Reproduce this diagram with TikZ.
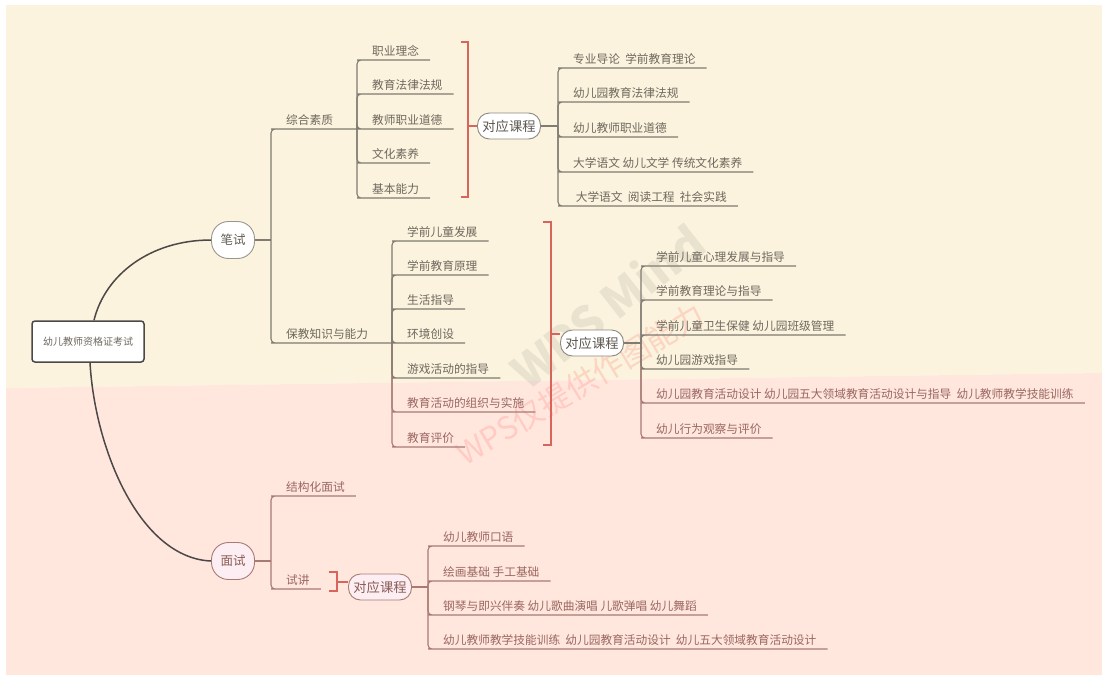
\documentclass[tikz,border=0pt]{standalone}
\usepackage{fontspec}
\setmainfont{Noto Sans CJK SC}
\usepackage{xcolor}
\usepackage{tikz}

\definecolor{bgtop}{HTML}{FBF3DD}
\definecolor{bgbot}{HTML}{FFE7DE}
\definecolor{txtgray}{HTML}{6E685F}
\definecolor{txtred}{HTML}{9A6660}
\definecolor{lngray}{HTML}{807B73}
\definecolor{lnred}{HTML}{A87A74}
\definecolor{brred}{HTML}{D9645C}
\definecolor{trunkgray}{HTML}{4C4848}
\definecolor{pinkfill}{HTML}{FCEEF2}

\tikzset{
  root/.style={draw=trunkgray, line width=1.5pt, fill=white, rounded corners=3pt,
    minimum width=112pt, minimum height=41pt, text=txtgray,
    font=\fontsize{10}{12}\selectfont},
  topic/.style={draw=lngray!80, line width=0.9pt, fill=white, rounded corners=17pt,
    minimum width=43pt, minimum height=37pt, text=txtgray!90!black,
    font=\fontsize{12.5}{14}\selectfont},
  topicr/.style={topic, draw=lnred, fill=pinkfill, text=txtred!90!black},
  course/.style={draw=lngray!90, line width=0.9pt, fill=white, rounded corners=12pt,
    minimum width=63pt, minimum height=26pt, inner sep=2pt, text=txtgray!85!black,
    font=\fontsize{13.3}{15}\selectfont},
  courser/.style={course, draw=lnred, fill=pinkfill, text=txtred!90!black},
  leaf/.style={anchor=south west, xshift=4pt, inner xsep=11pt, inner ysep=3pt,
    text=txtgray, font=\fontsize{11.7}{14}\selectfont},
  leafr/.style={leaf, text=txtred},
  branch/.style={draw=lngray, line width=1.1pt, rounded corners=4pt},
  branchr/.style={branch, draw=lnred},
  bracket/.style={draw=brred, line width=1.1pt},
  trunk/.style={draw=trunkgray, line width=1.5pt},
}

\begin{document}
\begin{tikzpicture}[x=1pt,y=-1pt]
  \useasboundingbox (0,0) rectangle (1102,675);
  % background bands
  \fill[white] (0,0) rectangle (1102,675);
  \fill[bgtop] (6,5) -- (1102,5) -- (1102,373) -- (6,388) -- cycle;
  \fill[bgbot] (6,388) -- (1102,373) -- (1102,675) -- (6,675) -- cycle;

  % watermark
  \node[rotate=38, opacity=0.14, text=gray, font=\fontsize{46}{46}\selectfont\bfseries] (MarkA) at (607,306) {WPS Mind};
  \node[rotate=31, opacity=0.18, text=red!70, font=\fontsize{31}{31}\selectfont] (MarkB) at (580,384) {WPS仅提供作图能力};

  % root and the two exams
  \node[root] (Root) at (88,341.5) {幼儿教师资格证考试};
  \node[topic] (Bishi) at (233,240) {笔试};
  \node[topicr] (Mianshi) at (233,561) {面试};
  \draw[trunk] ([xshift=6pt]Root.north) .. controls (105,275) and (150,240) .. (Bishi.west);
  \draw[trunk] ([xshift=2pt]Root.south) .. controls (95,450) and (140,558) .. (Mianshi.west);

  % written exam
  \coordinate (BiJ) at (271,240);
  \coordinate (ZhJ) at (357,129);
  \coordinate (BjJ) at (392,343);
  \node[leaf] (Zonghe) at (271,129) {综合素质};
  \node[leaf] (Baojiao) at (271,343) {保教知识与能力};
  \draw[branch] (Bishi.east) -- (BiJ);
  \draw[branch] (BiJ) |- (Zonghe.south west) -- (ZhJ);
  \draw[branch] (BiJ) |- (Baojiao.south west) -- (BjJ);

  \node[leaf] (Linian) at (357,60) {职业理念};
  \node[leaf] (Fagui) at (357,94) {教育法律法规};
  \node[leaf] (Daode) at (357,129) {教师职业道德};
  \node[leaf] (Suyang) at (357,163) {文化素养};
  \node[leaf] (Nengli) at (357,198) {基本能力};
  \draw[branch] (ZhJ) |- (Linian.south west) -- (Linian.south east);
  \draw[branch] (ZhJ) |- (Fagui.south west) -- (Fagui.south east);
  \draw[branch] (ZhJ) |- (Daode.south west) -- (Daode.south east);
  \draw[branch] (ZhJ) |- (Suyang.south west) -- (Suyang.south east);
  \draw[branch] (ZhJ) |- (Nengli.south west) -- (Nengli.south east);

  \coordinate (BrA) at (468,126);
  \node[course] (KeA) at (509,126) {对应课程};
  \draw[bracket] (461,42) -- (468,42) -- (468,197) -- (461,197);
  \draw[bracket] (BrA) -- (KeA);
  \coordinate (KeAJ) at (558,126);
  \draw[branch] (KeA) -- (KeAJ);
  \node[leaf] (DaoLun) at (558,68) {专业导论~~学前教育理论};
  \node[leaf] (YeFagui) at (558,102) {幼儿园教育法律法规};
  \node[leaf] (YeDaode) at (558,137) {幼儿教师职业道德};
  \node[leaf] (Wenxue) at (558,172) {大学语文 幼儿文学 传统文化素养};
  \node[leaf] (Yuedu) at (558,206) {~大学语文~~阅读工程~~社会实践};
  \draw[branch] (KeAJ) |- (DaoLun.south west) -- (DaoLun.south east);
  \draw[branch] (KeAJ) |- (YeFagui.south west) -- (YeFagui.south east);
  \draw[branch] (KeAJ) |- (YeDaode.south west) -- (YeDaode.south east);
  \draw[branch] (KeAJ) |- (Wenxue.south west) -- (Wenxue.south east);
  \draw[branch] (KeAJ) |- (Yuedu.south west) -- (Yuedu.south east);

  \node[leaf] (Fazhan) at (392,241) {学前儿童发展};
  \node[leaf] (Yuanli) at (392,275) {学前教育原理};
  \node[leaf] (Shenghuo) at (392,309) {生活指导};
  \node[leaf] (Huanjing) at (392,343) {环境创设};
  \node[leaf] (Youxi) at (392,378) {游戏活动的指导};
  \node[leafr] (Zuzhi) at (392,412) {教育活动的组织与实施};
  \node[leafr] (Pingjia) at (392,447) {教育评价};
  \draw[branchr] (BjJ) |- (Pingjia.south west) -- (Pingjia.south east);
  \draw[branchr] (BjJ) |- (Zuzhi.south west) -- (Zuzhi.south east);
  \draw[branch] (BjJ) |- (Fazhan.south west) -- (Fazhan.south east);
  \draw[branch] (BjJ) |- (Yuanli.south west) -- (Yuanli.south east);
  \draw[branch] (BjJ) |- (Shenghuo.south west) -- (Shenghuo.south east);
  \draw[branch] (BjJ) |- (Huanjing.south west) -- (Huanjing.south east);
  \draw[branch] (BjJ) |- (Youxi.south west) -- (Youxi.south east);

  \coordinate (BrB) at (551,334);
  \node[course] (KeB) at (592,343) {对应课程};
  \draw[bracket] (543,222) -- (551,222) -- (551,445) -- (543,445);
  \draw[bracket] (BrB) -- (KeB.west |- BrB);
  \coordinate (KeBJ) at (641,343);
  \draw[branch] (KeB) -- (KeBJ);
  \node[leaf] (XinLi) at (641,266) {学前儿童心理发展与指导};
  \node[leaf] (LiLun) at (641,300) {学前教育理论与指导};
  \node[leaf] (BaoJian) at (641,335) {学前儿童卫生保健 幼儿园班级管理};
  \node[leaf] (YouXiZd) at (641,369) {幼儿园游戏指导};
  \node[leafr] (SheJi) at (641,403) {幼儿园教育活动设计 幼儿园五大领域教育活动设计与指导~~幼儿教师教学技能训练};
  \node[leafr] (GuanCha) at (641,438) {幼儿行为观察与评价};
  \draw[branchr] (KeBJ) |- (GuanCha.south west) -- (GuanCha.south east);
  \draw[branchr] (KeBJ) |- (SheJi.south west) -- (SheJi.south east);
  \draw[branch] (KeBJ) |- (XinLi.south west) -- (XinLi.south east);
  \draw[branch] (KeBJ) |- (LiLun.south west) -- (LiLun.south east);
  \draw[branch] (KeBJ) |- (BaoJian.south west) -- (BaoJian.south east);
  \draw[branch] (KeBJ) |- (YouXiZd.south west) -- (YouXiZd.south east);

  % interview
  \coordinate (MsJ) at (271,561);
  \node[leafr] (Jiegou) at (271,496) {结构化面试};
  \node[leafr] (Shijiang) at (271,589) {试讲};
  \draw[branchr] (Mianshi.east) -- (MsJ);
  \draw[branchr] (MsJ) |- (Jiegou.south west) -- (Jiegou.south east);
  \draw[branchr] (MsJ) |- (Shijiang.south west) -- (Shijiang.south east);

  \coordinate (BrC) at (337,582);
  \node[courser] (KeC) at (380,587) {对应课程};
  \draw[bracket] (329,572) -- (337,572) -- (337,591) -- (329,591);
  \draw[bracket] (BrC) -- (KeC.west |- BrC);
  \coordinate (KeCJ) at (428,587);
  \draw[branchr] (KeC) -- (KeCJ);
  \node[leafr] (KouYu) at (428,546) {幼儿教师口语};
  \node[leafr] (HuiHua) at (428,581) {绘画基础 手工基础};
  \node[leafr] (GangQin) at (428,615) {钢琴与即兴伴奏 幼儿歌曲演唱 儿歌弹唱 幼儿舞蹈};
  \node[leafr] (JiNeng) at (428,649) {幼儿教师教学技能训练~~幼儿园教育活动设计~~幼儿五大领域教育活动设计};
  \draw[branchr] (KeCJ) |- (KouYu.south west) -- (KouYu.south east);
  \draw[branchr] (KeCJ) |- (HuiHua.south west) -- (HuiHua.south east);
  \draw[branchr] (KeCJ) |- (GangQin.south west) -- (GangQin.south east);
  \draw[branchr] (KeCJ) |- (JiNeng.south west) -- (JiNeng.south east);
\end{tikzpicture}
\end{document}
